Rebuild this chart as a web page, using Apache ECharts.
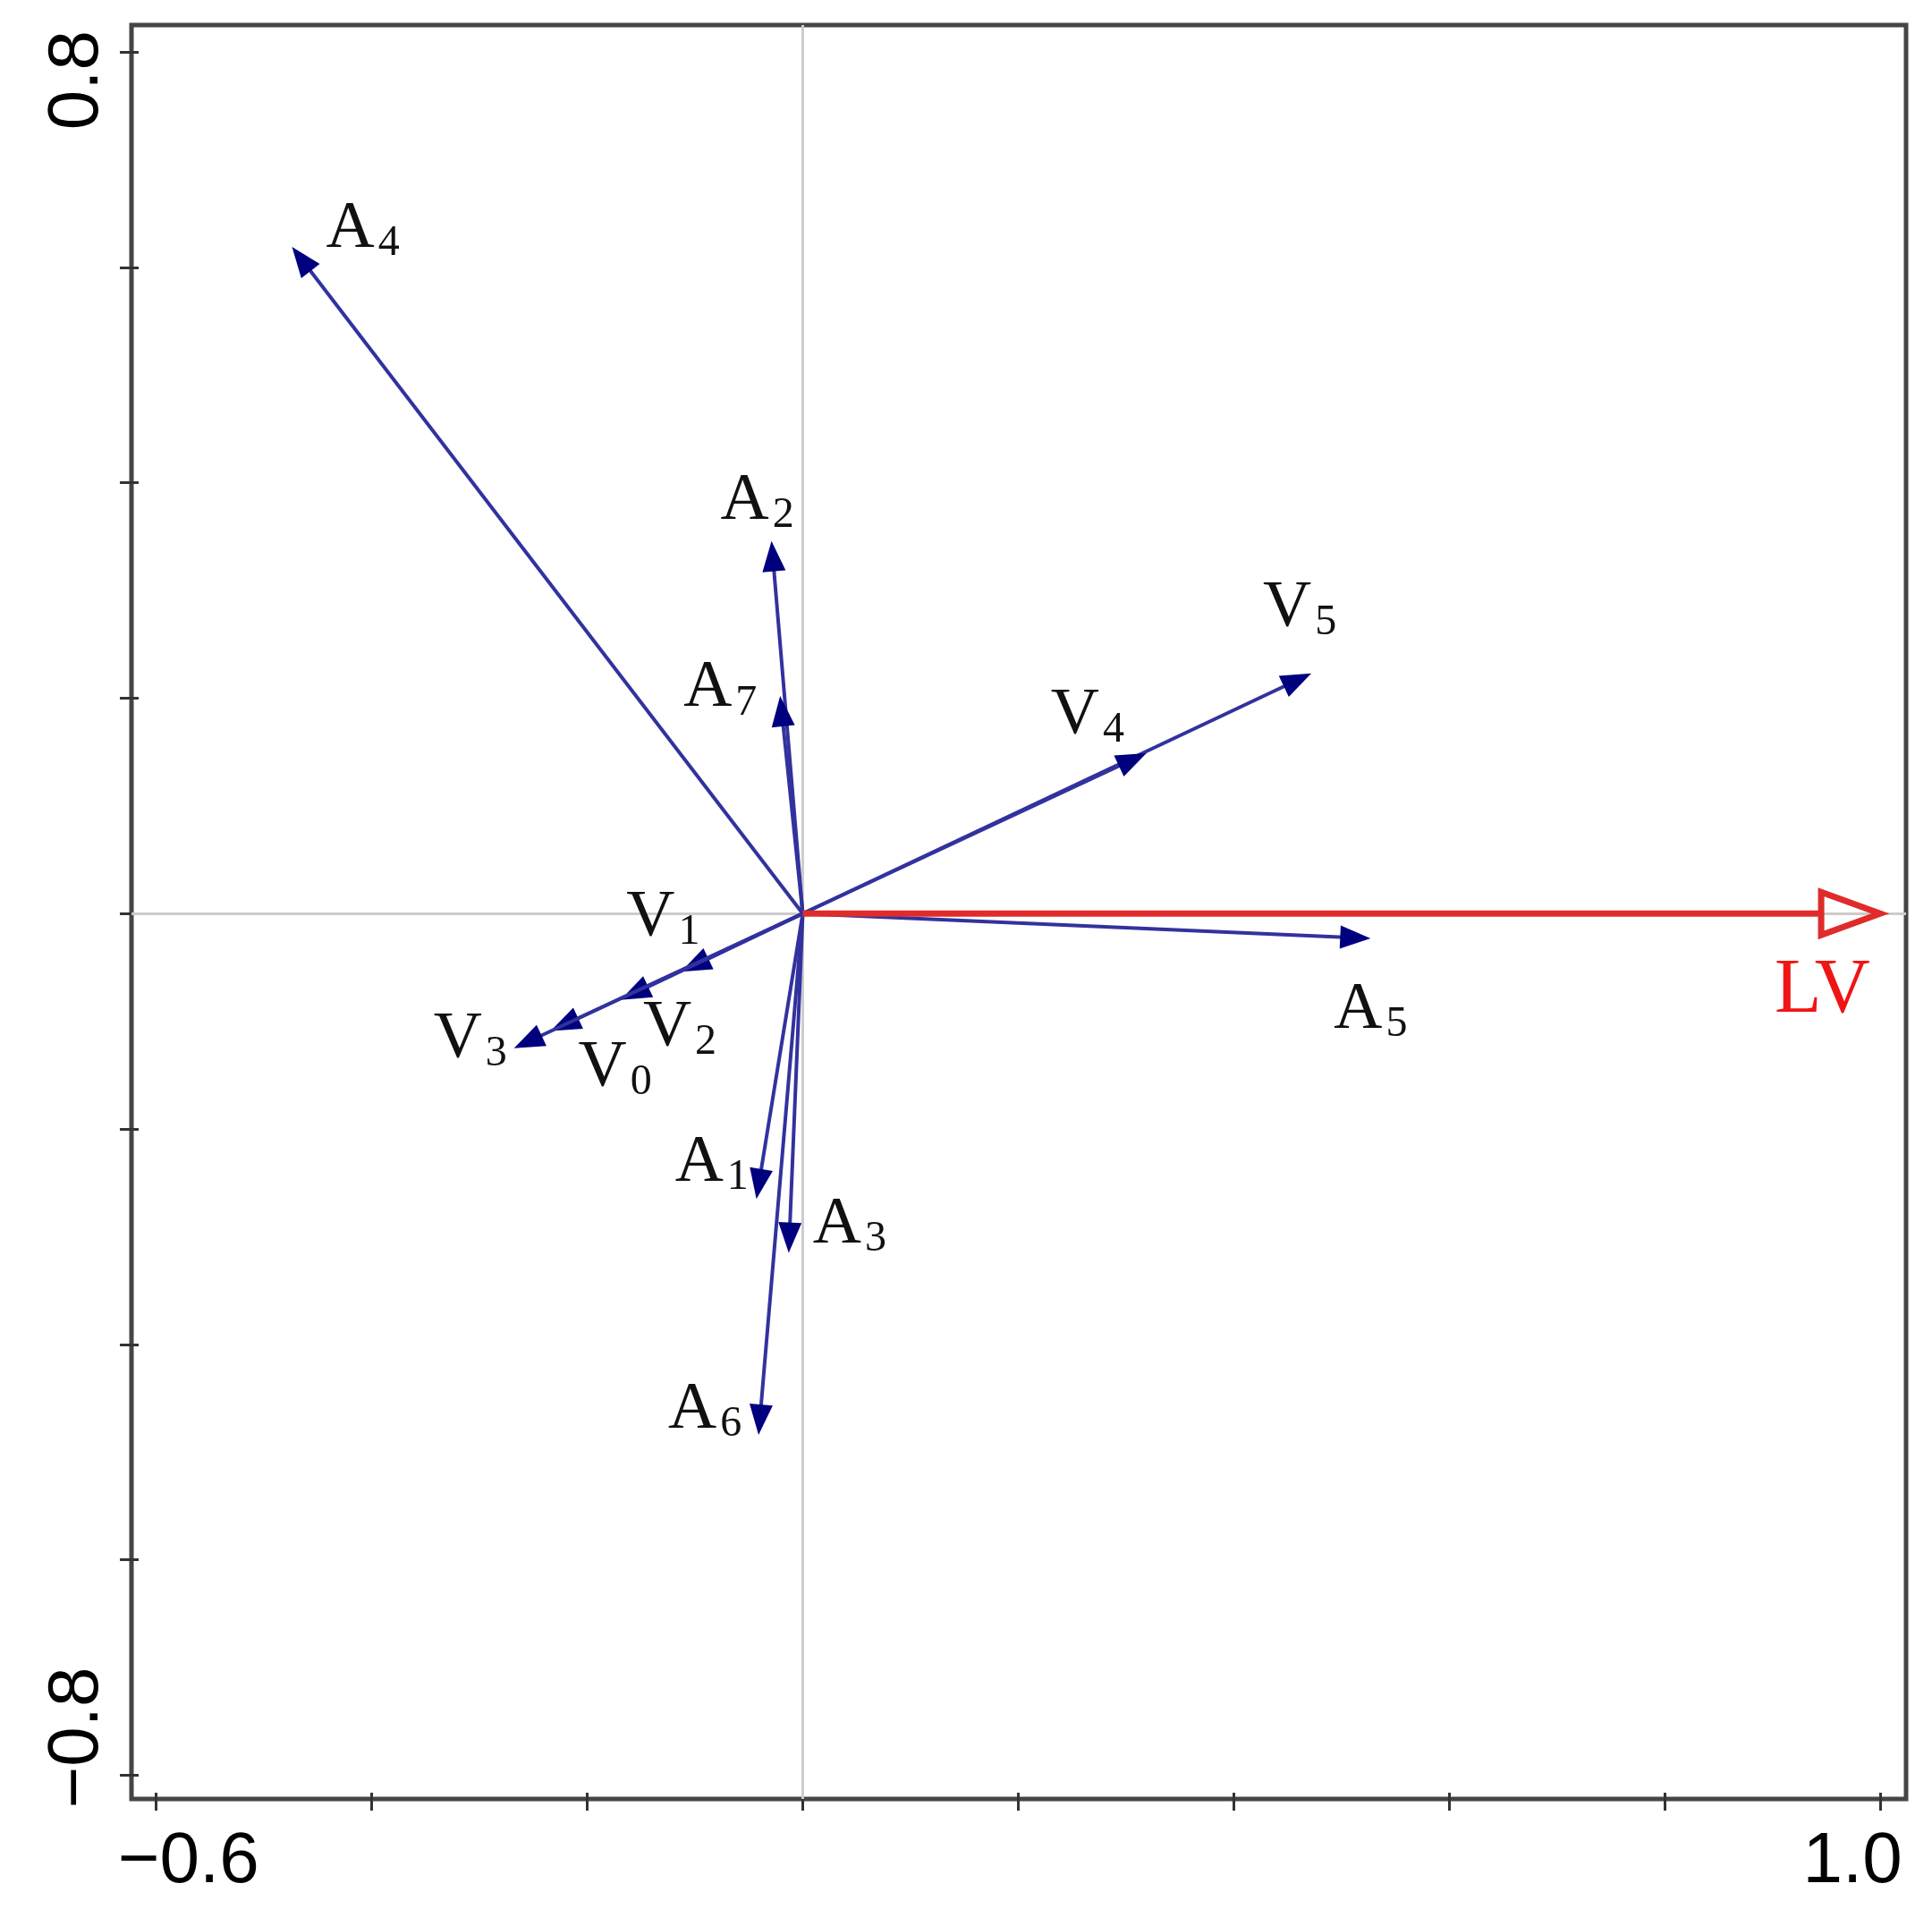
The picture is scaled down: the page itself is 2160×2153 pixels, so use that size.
<!DOCTYPE html>
<html>
<head>
<meta charset="utf-8">
<title>RDA</title>
<script src="https://cdn.jsdelivr.net/npm/echarts@6/dist/echarts.min.js"></script>
<style>
    html, body { margin: 0; padding: 0; background: #fff; }
    #main { width: 2160px; height: 2153px; }
</style>
</head>
<body>
<div id="main"></div>
<script>
    // 变量名（箭头）
    var names = ['A4', 'A2', 'A7', 'V5', 'V4', 'A5', 'V1', 'V2', 'V0', 'V3', 'A1', 'A3', 'A6', 'LV'];
    // 箭头终点 x / y
    var xs = [-0.474, -0.029, -0.021, 0.472, 0.319, 0.527, -0.113, -0.169, -0.234, -0.268, -0.043, -0.013, -0.041, 1.0];
    var ys = [0.619, 0.346, 0.202, 0.223, 0.149, -0.023, -0.054, -0.080, -0.109, -0.125, -0.265, -0.315, -0.484, 0.0];
    // 刻度和刻度标签
    var xTicks = [-0.6, -0.4, -0.2, 0, 0.2, 0.4, 0.6, 0.8, 1.0];
    var yTicks = [-0.8, -0.6, -0.4, -0.2, 0, 0.2, 0.4, 0.6, 0.8];
    var xTickLabels = [-0.6, 1.0];
    var yTickLabels = [-0.8, 0.8];

    // 标签相对箭头尖端的位置（左边, 基线），像素
    var labelPos = {
        A4: [38, 6], A2: [-57, -19], A7: [-108, 17], V5: [-54, -47], V4: [-107, -16],
        A5: [-41, 106], V1: [-61, -35], V2: [25, 57], V0: [31, 67], V3: [-90, 16],
        A1: [-91, -15], A3: [27, -6], A6: [-101, -2], LV: [-118, 116]
    };

    var NAVY = '#00007f';
    var RED = '#e02b2b';
    var SERIF = '"Liberation Serif", "Times New Roman", serif';
    var SANS = '"Liberation Sans", Arial, sans-serif';
    var mainSize = 75, subSize = 48, lvSize = 86;

    function txt(s, x, base, size, color) {
        return {
            type: 'text',
            style: {
                text: s, x: x, y: base - 0.3375 * size,
                fontSize: size, fontFamily: SERIF, fill: color,
                align: 'left', verticalAlign: 'middle'
            }
        };
    }

    function renderArrow(params, api) {
        var name = names[params.dataIndex];
        var o = api.coord([0, 0]);
        var p = api.coord([api.value(0), api.value(1)]);
        var dx = p[0] - o[0], dy = p[1] - o[1];
        var len = Math.sqrt(dx * dx + dy * dy);
        var ux = dx / len, uy = dy / len;
        var isLV = name === 'LV';
        var hl = isLV ? 66 : 34;   // 箭头长
        var hw = isLV ? 24 : 13;   // 箭头半宽
        var bx = p[0] - ux * hl, by = p[1] - uy * hl;
        var head = [[p[0], p[1]], [bx - uy * hw, by + ux * hw], [bx + uy * hw, by - ux * hw]];
        var children = [];
        children.push({
            type: 'line',
            shape: { x1: o[0], y1: o[1], x2: isLV ? bx : p[0] - ux * 12, y2: isLV ? by : p[1] - uy * 12 },
            style: { stroke: isLV ? RED : '#32329e', lineWidth: isLV ? 7 : 4 }
        });
        children.push({
            type: 'polygon',
            shape: { points: head },
            style: isLV ? { fill: 'rgba(0,0,0,0)', stroke: RED, lineWidth: 7 } : { fill: NAVY }
        });
        var off = labelPos[name];
        var lx = p[0] + off[0], base = p[1] + off[1];
        if (isLV) {
            children.push(txt('LV', lx, base, lvSize, '#f01515'));
        } else {
            children.push(txt(name.charAt(0), lx, base, mainSize, '#111'));
            children.push(txt(name.charAt(1), lx + 0.722 * mainSize + 4, base + 7, subSize, '#111'));
        }
        return { type: 'group', children: children };
    }

    var arrowData = [];
    for (var i = 0; i < names.length; i++) {
        arrowData.push([xs[i], ys[i], names[i]]);
    }

    var myChart = echarts.init(document.getElementById('main'));
    myChart.setOption({
        animation: false,
        backgroundColor: '#fff',
        grid: {
            left: 147, top: 28, right: 29, bottom: 142,
            show: true, borderColor: '#454545', borderWidth: 5
        },
        xAxis: {
            type: 'value', min: -0.623, max: 1.024, offset: -7,
            axisLine: { show: false, onZero: false },
            splitLine: { show: false },
            axisTick: { show: true, length: 20, customValues: xTicks, lineStyle: { color: '#333', width: 3 } },
            axisLabel: {
                show: true, customValues: xTickLabels, margin: 38,
                formatter: function (v) {
                    return v < 0 ? '{l|\u22120.6}' : '{r|1.0}';
                },
                rich: {
                    l: { fontSize: 80, fontFamily: SANS, color: '#000', padding: [0, 0, 0, 72] },
                    r: { fontSize: 80, fontFamily: SANS, color: '#000', padding: [0, 62, 0, 0] }
                }
            }
        },
        yAxis: {
            type: 'value', min: -0.822, max: 0.825, offset: -8,
            axisLine: { show: false, onZero: false },
            splitLine: { show: false },
            axisTick: { show: true, length: 21, customValues: yTicks, lineStyle: { color: '#333', width: 3 } },
            axisLabel: {
                show: true, customValues: yTickLabels, margin: 28, rotate: 90,
                formatter: function (v) {
                    return v < 0 ? '{l|\u22120.8}' : '{r|0.8}';
                },
                rich: {
                    l: { fontSize: 80, fontFamily: SANS, color: '#000', padding: [0, 0, 0, 84] },
                    r: { fontSize: 80, fontFamily: SANS, color: '#000', padding: [0, 63, 0, 0] }
                }
            }
        },
        series: [
            {
                // 零线
                type: 'line',
                data: [],
                z: 1,
                markLine: {
                    silent: true,
                    symbol: 'none',
                    label: { show: false },
                    lineStyle: { color: '#cccccc', width: 3, type: 'solid' },
                    data: [{ xAxis: 0 }, { yAxis: 0 }]
                }
            },
            {
                type: 'custom',
                z: 5,
                renderItem: renderArrow,
                encode: { x: 0, y: 1 },
                data: arrowData
            }
        ]
    });
</script>
</body>
</html>
